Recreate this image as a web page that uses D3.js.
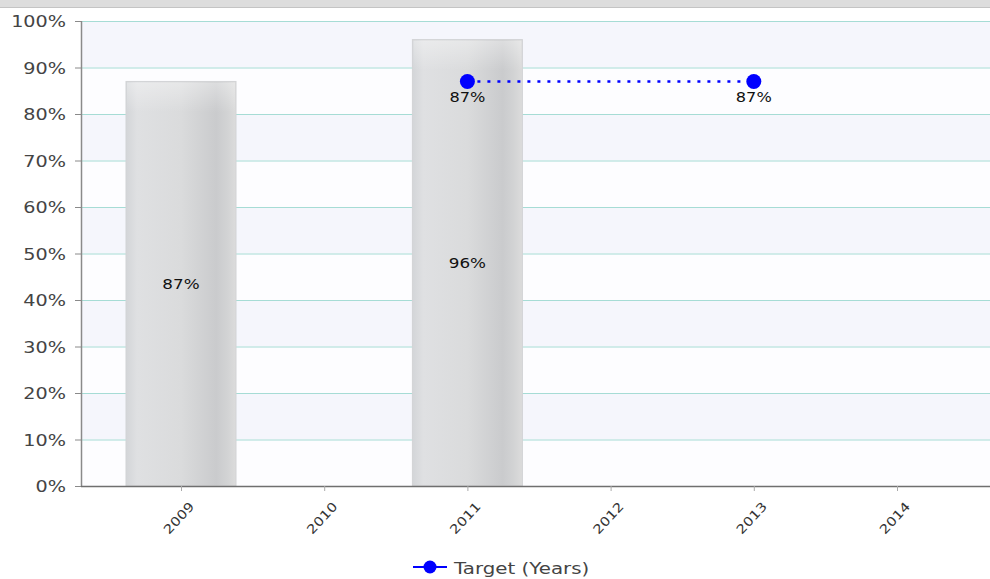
<!DOCTYPE html>
<html>
<head>
<meta charset="utf-8">
<script src="https://cdn.jsdelivr.net/npm/d3@7/dist/d3.min.js"></script>
<style>
  html, body { margin: 0; padding: 0; background: #ffffff; }
  svg { display: block; }
  text { font-family: "DejaVu Sans", Verdana, sans-serif; }
</style>
</head>
<body>
<svg id="chart" width="990" height="579"></svg>
<script>
// ---- Data ----
const categories = ["2009", "2010", "2011", "2012", "2013", "2014"];
const actualValues = [87, null, 96, null, null, null];
const targetValues = [null, null, 87, null, 87, null];
const yTickValues = [0, 10, 20, 30, 40, 50, 60, 70, 80, 90, 100];
const legendLabel = "Target (Years)";

// ---- Layout ----
const W = 990, H = 579;
const plot = { left: 81, right: 990, top: 21, bottom: 486 };
const SX = 1.2; // horizontal stretch of the text in the reference

const svg = d3.select("#chart");

const x = d3.scalePoint().domain(categories).range([181, 897]);
const y = d3.scaleLinear().domain([0, 100]).range([plot.bottom, plot.top]);
const barWidth = 110;

const defs = svg.append("defs");
const grad = defs.append("linearGradient").attr("id", "barGrad")
  .attr("x1", "0%").attr("x2", "100%").attr("y1", "0%").attr("y2", "0%");
[["0%", "#d3d5d8"], ["10%", "#dfe0e2"], ["50%", "#dadbdc"], ["82%", "#cacbcd"], ["92%", "#d2d3d4"], ["100%", "#dcdcdc"]]
  .forEach(([o, c]) => grad.append("stop").attr("offset", o).attr("stop-color", c));
const vgrad = defs.append("linearGradient").attr("id", "barTop")
  .attr("x1", "0%").attr("x2", "0%").attr("y1", "0%").attr("y2", "100%");
vgrad.append("stop").attr("offset", "0%").attr("stop-color", "#ffffff").attr("stop-opacity", 0.35);
vgrad.append("stop").attr("offset", "100%").attr("stop-color", "#ffffff").attr("stop-opacity", 0);

// top gray strip
svg.append("rect").attr("x", 0).attr("y", 0).attr("width", W).attr("height", 7).attr("fill", "#dddddd");
svg.append("line").attr("x1", 0).attr("x2", W).attr("y1", 7.5).attr("y2", 7.5).attr("stroke", "#c4c4c4");

// alternating bands
const bandData = yTickValues.slice(0, -1).map((v, i) => ({ lo: v, hi: yTickValues[i + 1], i }));
svg.append("g").selectAll("rect").data(bandData).join("rect")
  .attr("x", plot.left).attr("width", plot.right - plot.left)
  .attr("y", d => y(d.hi)).attr("height", d => y(d.lo) - y(d.hi))
  .attr("fill", d => d.i % 2 === 1 ? "#f5f6fc" : "#fdfdff");

// grid lines
svg.append("g").selectAll("line").data(yTickValues.filter(v => v > 0)).join("line")
  .attr("x1", plot.left).attr("x2", plot.right)
  .attr("y1", d => y(d) + 0.5).attr("y2", d => y(d) + 0.5)
  .attr("stroke", "#a6dcd5").attr("stroke-width", 1.2);

// bars
const barData = categories.map((c, i) => ({ c, v: actualValues[i] })).filter(d => d.v != null);
const bars = svg.append("g");
bars.selectAll("rect.bar").data(barData).join("rect").attr("class", "bar")
  .attr("x", d => x(d.c) - barWidth / 2).attr("width", barWidth)
  .attr("y", d => y(d.v)).attr("height", d => y(0) - y(d.v))
  .attr("fill", "url(#barGrad)").attr("stroke", "#d2d3d5").attr("stroke-width", 1);
bars.selectAll("rect.sheen").data(barData).join("rect").attr("class", "sheen")
  .attr("x", d => x(d.c) - barWidth / 2 + 1).attr("width", barWidth - 2)
  .attr("y", d => y(d.v) + 1).attr("height", 30)
  .attr("fill", "url(#barTop)");

// bar labels
bars.selectAll("text").data(barData).join("text")
  .attr("transform", d => `translate(${x(d.c)},${y(d.v / 2) + 5}) scale(${SX},1)`)
  .attr("text-anchor", "middle").attr("font-size", 14).attr("fill", "#111")
  .text(d => d.v + "%");

// y axis
const yAxis = svg.append("g");
yAxis.append("line").attr("x1", plot.left + 0.5).attr("x2", plot.left + 0.5)
  .attr("y1", plot.top).attr("y2", plot.bottom).attr("stroke", "#8a8a8a").attr("stroke-width", 1.5);
yAxis.selectAll("line.tick").data(yTickValues).join("line").attr("class", "tick")
  .attr("x1", plot.left - 6).attr("x2", plot.left)
  .attr("y1", d => y(d) + 0.5).attr("y2", d => y(d) + 0.5).attr("stroke", "#8a8a8a");
yAxis.selectAll("text").data(yTickValues).join("text")
  .attr("transform", d => `translate(${plot.left - 15},${y(d) + 6}) scale(${SX},1)`)
  .attr("text-anchor", "end").attr("font-size", 16).attr("fill", "#444")
  .text(d => d + "%");

// x axis
const xAxis = svg.append("g");
xAxis.append("line").attr("x1", plot.left).attr("x2", plot.right)
  .attr("y1", plot.bottom + 0.5).attr("y2", plot.bottom + 0.5).attr("stroke", "#6f6f6f").attr("stroke-width", 1.5);
xAxis.selectAll("line.tick").data(categories).join("line").attr("class", "tick")
  .attr("x1", d => x(d) + 0.5).attr("x2", d => x(d) + 0.5)
  .attr("y1", plot.bottom).attr("y2", plot.bottom + 5).attr("stroke", "#aaaaaa");
xAxis.selectAll("text").data(categories).join("text")
  .attr("transform", d => `translate(${x(d) + 14},${plot.bottom + 21}) rotate(-47) scale(${SX},1)`)
  .attr("text-anchor", "end").attr("font-size", 12.5).attr("fill", "#333")
  .text(d => d);

// target line
const targetData = categories.map((c, i) => ({ c, v: targetValues[i] })).filter(d => d.v != null);
const line = d3.line().x(d => x(d.c)).y(d => y(d.v));
svg.append("path").datum(targetData).attr("d", line)
  .attr("fill", "none").attr("stroke", "#0000ff").attr("stroke-width", 2.5)
  .attr("stroke-dasharray", "3,7");
svg.append("g").selectAll("circle").data(targetData).join("circle")
  .attr("cx", d => x(d.c)).attr("cy", d => y(d.v)).attr("r", 7.5).attr("fill", "#0000ff");
svg.append("g").selectAll("text").data(targetData).join("text")
  .attr("transform", d => `translate(${x(d.c)},${y(d.v) + 21}) scale(${SX},1)`)
  .attr("text-anchor", "middle").attr("font-size", 13.5).attr("fill", "#111")
  .text(d => d.v + "%");

// legend
const lg = svg.append("g");
lg.append("line").attr("x1", 413).attr("x2", 447).attr("y1", 567).attr("y2", 567)
  .attr("stroke", "#0000ff").attr("stroke-width", 2);
lg.append("circle").attr("cx", 430).attr("cy", 567).attr("r", 6.5).attr("fill", "#0000ff");
lg.append("text").attr("transform", `translate(454,574) scale(${SX},1)`)
  .attr("font-size", 16.5).attr("fill", "#444").text(legendLabel);
</script>
</body>
</html>
